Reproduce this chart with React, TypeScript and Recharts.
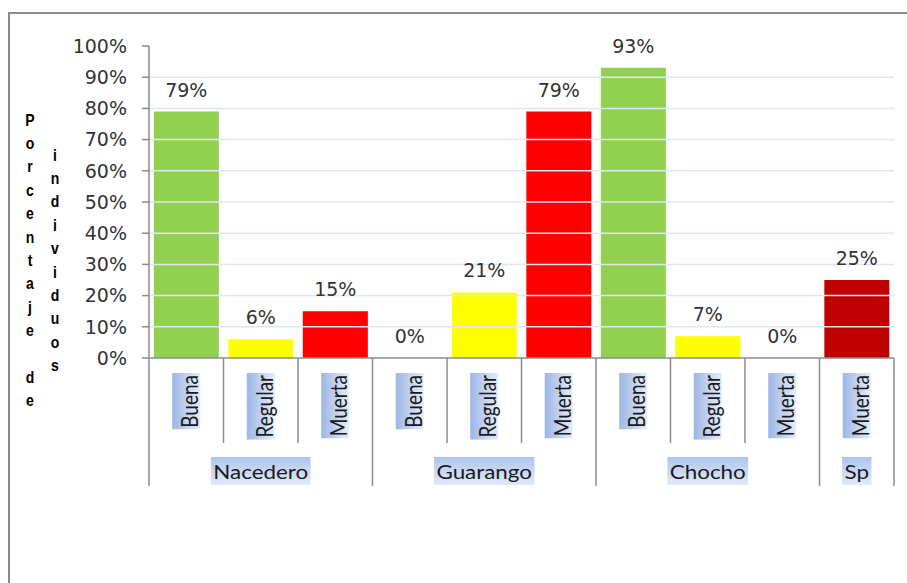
import React, { useLayoutEffect, useRef, useState } from 'react';
import { ComposedChart, Bar, Line, XAxis, YAxis, ReferenceLine, LabelList, Cell } from 'recharts';

// ---- data ----
const categories = ['Buena', 'Regular', 'Muerta', 'Buena', 'Regular', 'Muerta', 'Buena', 'Regular', 'Muerta', 'Muerta'];
const groups = ['Nacedero', 'Nacedero', 'Nacedero', 'Guarango', 'Guarango', 'Guarango', 'Chocho', 'Chocho', 'Chocho', 'Sp'];
const values = [79, 6, 15, 0, 21, 79, 93, 7, 0, 25];
const barColors = ['#92D050', '#FFFF00', '#FF0000', '#92D050', '#FFFF00', '#FF0000', '#92D050', '#FFFF00', '#FF0000', '#C00000'];
const yTicks = [0, 10, 20, 30, 40, 50, 60, 70, 80, 90, 100];
const gridValues = [10, 20, 30, 40, 50, 60, 70, 80, 90];
const yTitleColumns = ['Porcentaje de', 'individuos'];

const data = categories.map((c, i) => ({
  key: `${groups[i]}-${c}-${i}`,
  cat: c,
  group: groups[i],
  value: values[i],
  color: barColors[i],
}));

// ---- layout ----
const W = 907;
const H = 583;
const MARGIN = { top: 46, right: 13, bottom: 85, left: 89 };
const Y_AXIS_W = 60;
const X_AXIS_H = 140;
const PLOT_W = W - MARGIN.left - MARGIN.right - Y_AXIS_W;
const AXIS_GRAY = '#8C8C8C';
const LABEL_FONT = 'Lato, "Open Sans", sans-serif';
const NUM_FONT = '"DejaVu Sans", Verdana, sans-serif';

function useTextWidth(text: string, fontSize: number) {
  const ref = useRef<SVGTextElement>(null);
  const [w, setW] = useState(text.length * fontSize * 0.55);
  useLayoutEffect(() => {
    if (ref.current) {
      const l = ref.current.getComputedTextLength();
      if (Math.abs(l - w) > 0.5) setW(l);
    }
  }, [text, fontSize]);
  return [ref, w] as const;
}

function RotatedLabel({ cx, top, text, id }: { cx: number; top: number; text: string; id: string }) {
  const fs = 19;
  const [ref, w] = useTextWidth(text, fs);
  return (
    <g transform={`translate(${cx},${top}) rotate(-90) scale(1,1.2)`}>
      <defs>
        <linearGradient id={id} x1="0" y1="0" x2="0" y2="1">
          <stop offset="0%" stopColor="#9DB6E6" />
          <stop offset="100%" stopColor="#E6EDF9" />
        </linearGradient>
      </defs>
      <rect x={-(w + 4)} y={-11.67} width={w + 4} height={23.33} fill={`url(#${id})`} />
      <text ref={ref} x={-2} y={10} textAnchor="end" fontFamily={LABEL_FONT} fontSize={fs} fill="#1A1A1A">
        {text}
      </text>
    </g>
  );
}

function GroupLabel({ cx, y, text, id }: { cx: number; y: number; text: string; id: string }) {
  const fs = 19;
  const [ref, w] = useTextWidth(text, fs);
  return (
    <g transform={`translate(${cx},${y}) scale(1.18,1)`}>
      <defs>
        <linearGradient id={id} x1="0" y1="0" x2="0" y2="1">
          <stop offset="0%" stopColor="#AFC4EC" />
          <stop offset="100%" stopColor="#E2EAF8" />
        </linearGradient>
      </defs>
      <rect x={-w / 2 - 2} y={99} width={w + 4} height={28} fill={`url(#${id})`} />
      <text ref={ref} x={0} y={121.5} textAnchor="middle" fontFamily={LABEL_FONT} fontSize={fs} fill="#1A1A1A">
        {text}
      </text>
    </g>
  );
}

function CategoryTick(props: any) {
  const { x, y, payload } = props;
  const i: number = payload?.index ?? props.index ?? 0;
  const half: number = payload?.offset > 0 ? payload.offset : PLOT_W / data.length / 2;
  const d = data[i];
  if (!d) return null;
  const n = data.length;
  const first = i === 0 || groups[i - 1] !== groups[i];
  const last = i === n - 1;
  let groupEl = null;
  if (first) {
    let count = 0;
    while (i + count < n && groups[i + count] === groups[i]) count++;
    const gc = x - half + count * half;
    groupEl = <GroupLabel cx={gc} y={y} text={d.group} id={`gg${i}`} />;
  }
  return (
    <g>
      <line x1={x - half} x2={x - half} y1={y} y2={y + (first ? 128 : 85)} stroke={AXIS_GRAY} strokeWidth={1.5} />
      {last && <line x1={x + half} x2={x + half} y1={y} y2={y + 128} stroke={AXIS_GRAY} strokeWidth={1.5} />}
      <RotatedLabel cx={x} top={y + 15} text={d.cat} id={`cg${i}`} />
      {groupEl}
    </g>
  );
}

function YTitle() {
  const spacing = 23.4;
  const cy = 260;
  const xs = [30, 55];
  return (
    <svg width={W} height={H} style={{ position: 'absolute', left: 0, top: 0, pointerEvents: 'none' }}>
      {yTitleColumns.map((col, ci) => {
        const chars = col.split('');
        const mid = (chars.length - 1) / 2;
        return chars.map((ch, i) => (
          <g key={`${ci}-${i}`} transform={`translate(${xs[ci]},${cy + (i - mid) * spacing}) scale(0.85,1)`}>
            <text
              x={0}
              y={0}
              textAnchor="middle"
              dominantBaseline="central"
              fontFamily='"Liberation Sans", Arial, sans-serif'
              fontWeight="bold"
              fontSize={16.5}
              fill="#000"
            >
              {ch}
            </text>
          </g>
        ));
      })}
    </svg>
  );
}

export default function App() {
  return (
    <div style={{ position: 'absolute', left: 0, top: 0, width: W, height: H, overflow: 'hidden', background: '#fff' }}>
      <div
        style={{
          position: 'absolute',
          left: 8,
          top: 12,
          width: W + 40,
          height: H + 40,
          border: `2px solid ${AXIS_GRAY}`,
          boxSizing: 'border-box',
        }}
      />
      <div style={{ position: 'absolute', left: 0, top: 0 }}>
        <ComposedChart width={W} height={H} data={data} margin={MARGIN} barCategoryGap="6.5%">
          {gridValues.map((g) => (
            <ReferenceLine key={g} y={g} stroke="#DFE6F5" strokeWidth={1.5} />
          ))}
          <XAxis
            dataKey="key"
            interval={0}
            height={X_AXIS_H}
            tickLine={false}
            tickSize={0}
            tickMargin={0}
            axisLine={{ stroke: AXIS_GRAY, strokeWidth: 1.5 }}
            tick={<CategoryTick />}
          />
          <YAxis
            width={Y_AXIS_W}
            domain={[0, 100]}
            ticks={yTicks}
            interval={0}
            tickFormatter={(v: number) => `${v}%`}
            tickSize={7}
            tickMargin={15}
            axisLine={{ stroke: AXIS_GRAY, strokeWidth: 1.5 }}
            tickLine={{ stroke: AXIS_GRAY, strokeWidth: 1.5 }}
            tick={{ fontFamily: NUM_FONT, fontSize: 19, fill: '#333333' }}
          />
          <Bar dataKey="value" isAnimationActive={false}>
            {data.map((d) => (
              <Cell key={d.key} fill={d.color} />
            ))}
          </Bar>
          <Line
            dataKey="value"
            stroke="none"
            dot={false}
            activeDot={false}
            legendType="none"
            isAnimationActive={false}
          >
            <LabelList
              dataKey="value"
              position="top"
              offset={15}
              formatter={(v: any) => `${v}%`}
              style={{ fontFamily: NUM_FONT, fontSize: 19, fill: '#333333' }}
            />
          </Line>
        </ComposedChart>
      </div>
      <YTitle />
    </div>
  );
}
